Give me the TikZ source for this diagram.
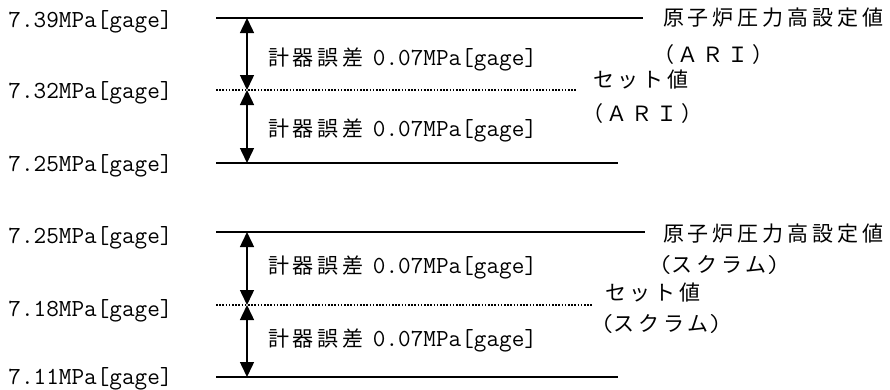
\documentclass[tikz,border=0pt]{standalone}
\usepackage{fontspec}
\usetikzlibrary{arrows.meta}
\newfontfamily\jpf{Noto Sans CJK JP}[LetterSpace=19]
\newfontfamily\latf{Latin Modern Mono}
\newcommand{\jp}{\jpf\fontsize{21}{21}\selectfont}
\newcommand{\lt}{\latf\fontsize{24.5}{24.5}\selectfont}
\tikzset{
  lab/.style={anchor=base west, inner sep=0pt, outer sep=0pt},
  solidln/.style={line width=1.6pt},
  dotln/.style={line width=1.6pt, dash pattern=on 1.6pt off 1.6pt},
  dimarrow/.style={line width=1.5pt, {Triangle[width=14pt,length=15pt]}-{Triangle[width=14pt,length=15pt]}}
}
\begin{document}
\begin{tikzpicture}[x=1pt,y=-1pt]
\useasboundingbox (0,0) rectangle (890,389);
% ---------- top block (ARI) ----------
\coordinate (aTopL) at (216,18);  \coordinate (aTopR) at (643,18);
\coordinate (aMidL) at (216,90);  \coordinate (aMidR) at (577,90);
\coordinate (aBotL) at (216,163); \coordinate (aBotR) at (618,163);
\coordinate (aX) at (247,0);
\draw[solidln] (aTopL) -- (aTopR);
\draw[dotln]   (aMidL) -- (aMidR);
\draw[solidln] (aBotL) -- (aBotR);
\draw[dimarrow] (aTopL -| aX) -- (aMidL -| aX);
\draw[dimarrow] (aMidL -| aX) -- (aBotL -| aX);
\node[lab] (aV1) at (8.5,27)   {\lt 7.39MPa[gage]};
\node[lab] (aV2) at (8.5,98.5) {\lt 7.32MPa[gage]};
\node[lab] (aV3) at (8.5,171.5){\lt 7.25MPa[gage]};
\node[lab] (aE1) at (268,65)   {\jp 計器誤差\hspace{9pt}\lt 0.07MPa[gage]};
\node[lab] (aE2) at (268,136.5){\jp 計器誤差\hspace{9pt}\lt 0.07MPa[gage]};
\node[lab] (aR1) at (663,25.5) {\jp 原子炉圧力高設定値};
\node[lab] (aR2) at (653,62.5) {\jp （ＡＲＩ）};
\node[lab] (aS1) at (593,87.5) {\jp セット値};
\node[lab] (aS2) at (582,121.5){\jp （ＡＲＩ）};
% ---------- bottom block (scram) ----------
\coordinate (bTopL) at (216,232); \coordinate (bTopR) at (645,232);
\coordinate (bMidL) at (216,305); \coordinate (bMidR) at (593,305);
\coordinate (bBotL) at (216,377); \coordinate (bBotR) at (618,377);
\coordinate (bX) at (247,0);
\draw[solidln] (bTopL) -- (bTopR);
\draw[dotln]   (bMidL) -- (bMidR);
\draw[solidln] (bBotL) -- (bBotR);
\draw[dimarrow] (bTopL -| bX) -- (bMidL -| bX);
\draw[dimarrow] (bMidL -| bX) -- (bBotL -| bX);
\node[lab] (bV1) at (8.5,243.5) {\lt 7.25MPa[gage]};
\node[lab] (bV2) at (8.5,316.5) {\lt 7.18MPa[gage]};
\node[lab] (bV3) at (8.5,384)   {\lt 7.11MPa[gage]};
\node[lab] (bE1) at (268,273.5) {\jp 計器誤差\hspace{9pt}\lt 0.07MPa[gage]};
\node[lab] (bE2) at (268,346.5) {\jp 計器誤差\hspace{9pt}\lt 0.07MPa[gage]};
\node[lab] (bR1) at (663,241)   {\jp 原子炉圧力高設定値};
\node[lab] (bR2) at (659,272.5) {\lt (\jp スクラム\lt )};
\node[lab] (bS1) at (605,300.5) {\jp セット値};
\node[lab] (bS2) at (601,331.5) {\lt (\jp スクラム\lt )};
\end{tikzpicture}
\end{document}
